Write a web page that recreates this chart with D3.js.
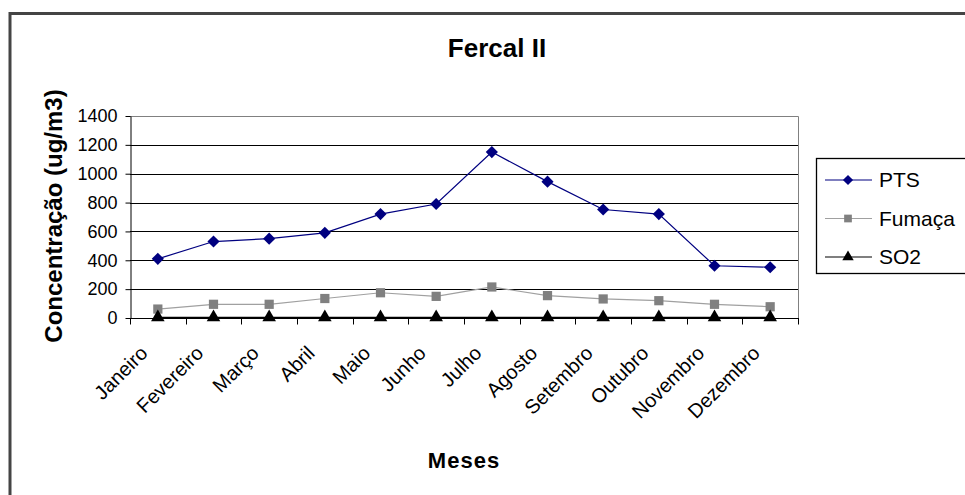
<!doctype html>
<html>
<head>
    <meta charset="UTF-8">
    <title>Fercal II</title>
    <style>
        body { margin: 0; background: #fff; }
        text { font-family: "Liberation Sans", Arial, sans-serif; fill: #000; }
        .grid line { stroke: #000; stroke-width: 1; }
    </style>
    <script src="https://d3js.org/d3.v7.min.js"></script>
</head>
<body>
<svg id="chart" width="965" height="495"></svg>
<script>
    // data
    var meses = ["Janeiro", "Fevereiro", "Março", "Abril", "Maio", "Junho",
                 "Julho", "Agosto", "Setembro", "Outubro", "Novembro", "Dezembro"];
    var pts     = [410, 530, 550, 590, 720, 790, 1150, 945, 752, 720, 362, 352];
    var fumaca  = [62, 95, 95, 135, 175, 150, 215, 155, 132, 120, 95, 78];
    var so2     = [5, 5, 5, 5, 5, 5, 5, 5, 5, 5, 5, 5];
    var yTicks  = [0, 200, 400, 600, 800, 1000, 1200, 1400];

    // diamond = square turned 45 degrees
    var series = [
        {name: "PTS",    values: pts,    line: "#000080", fill: "#000080", shape: d3.symbolSquare,   size: 74, rot: 45},
        {name: "Fumaça", values: fumaca, line: "#a0a0a0", fill: "#808080", shape: d3.symbolSquare,   size: 85, rot: 0},
        {name: "SO2",    values: so2,    line: "#000000", fill: "#000000", shape: d3.symbolTriangle, size: 80, rot: 0}
    ];

    function draw() {
        var svg = d3.select("#chart");

        // outer frame
        svg.append("rect")
            .attr("x", 10).attr("y", 13.5)
            .attr("width", 1000).attr("height", 600)
            .attr("fill", "none").attr("stroke", "#444").attr("stroke-width", 3);

        var pLeft = 130, pRight = 798, pTop = 116, pBottom = 318;

        var x = d3.scaleBand().domain(meses).range([pLeft, pRight]);
        var y = d3.scaleLinear().domain([0, 1400]).range([pBottom, pTop]);

        // gridlines
        svg.append("g").attr("class", "grid")
            .selectAll("line")
            .data(yTicks.slice(1, -1))
            .enter().append("line")
                .attr("x1", pLeft).attr("x2", pRight)
                .attr("y1", function(d) { return Math.round(y(d)) + 0.5; })
                .attr("y2", function(d) { return Math.round(y(d)) + 0.5; });

        // plot border (top & right gray)
        svg.append("path")
            .attr("d", "M" + pLeft + "," + (pTop + 0.5) + "H" + (pRight + 0.5) + "V" + pBottom)
            .attr("fill", "none").attr("stroke", "#808080");

        // y axis
        var yAxis = svg.append("g")
            .attr("transform", "translate(" + (pLeft + 0.5) + ",0)")
            .call(d3.axisLeft(y).tickValues(yTicks).tickFormat(d3.format("d"))
                .tickSize(5).tickPadding(8).tickSizeOuter(0));
        yAxis.select(".domain").attr("stroke", "#000");
        yAxis.selectAll(".tick line").attr("stroke", "#000");
        yAxis.selectAll("text")
            .attr("font-size", "18px")
            .attr("font-family", "Liberation Sans, Arial, sans-serif")
            .attr("fill", "#000");

        // x axis with ticks at category boundaries
        var xAxis = svg.append("g")
            .attr("transform", "translate(0," + (pBottom + 0.5) + ")");
        xAxis.append("line")
            .attr("x1", pLeft).attr("x2", pRight + 1)
            .attr("stroke", "#000");
        xAxis.selectAll("line.tk")
            .data(d3.range(meses.length + 1))
            .enter().append("line")
                .attr("class", "tk")
                .attr("x1", function(i) { return Math.round(pLeft + i * x.bandwidth()) + 0.5; })
                .attr("x2", function(i) { return Math.round(pLeft + i * x.bandwidth()) + 0.5; })
                .attr("y1", 0).attr("y2", 6)
                .attr("stroke", "#000");
        xAxis.selectAll("text")
            .data(meses)
            .enter().append("text")
                .attr("text-anchor", "end")
                .attr("font-size", "20px")
                .attr("transform", function(d) {
                    var cx = x(d) + x.bandwidth() / 2 - 9;
                    return "translate(" + cx + ",36) rotate(-45)";
                })
                .text(function(d) { return d; });

        // lines and markers
        var line = d3.line()
            .x(function(d, i) { return x(meses[i]) + x.bandwidth() / 2; })
            .y(function(d) { return y(d); });

        series.forEach(function(s) {
            svg.append("path")
                .datum(s.values)
                .attr("d", line)
                .attr("fill", "none")
                .attr("stroke", s.line)
                .attr("stroke-width", 1.2);
        });
        series.forEach(function(s) {
            svg.append("g").selectAll("path")
                .data(s.values)
                .enter().append("path")
                    .attr("d", d3.symbol().type(s.shape).size(s.size))
                    .attr("transform", function(d, i) {
                        return "translate(" + (x(meses[i]) + x.bandwidth() / 2) + "," + y(d) + ") rotate(" + s.rot + ")";
                    })
                    .attr("fill", s.fill);
        });

        // titles
        svg.append("text")
            .attr("x", 497).attr("y", 57)
            .attr("text-anchor", "middle")
            .attr("font-size", "26px").attr("font-weight", "bold")
            .text("Fercal II");

        svg.append("text")
            .attr("transform", "translate(62,216) rotate(-90)")
            .attr("text-anchor", "middle")
            .attr("font-size", "24px").attr("font-weight", "bold")
            .text("Concentração (ug/m3)");

        svg.append("text")
            .attr("x", 464).attr("y", 468)
            .attr("text-anchor", "middle")
            .attr("font-size", "22px").attr("font-weight", "bold")
            .attr("letter-spacing", "1px")
            .text("Meses");

        // legend
        var legend = svg.append("g");
        legend.append("rect")
            .attr("x", 816.5).attr("y", 158.5)
            .attr("width", 200).attr("height", 115)
            .attr("fill", "#fff").attr("stroke", "#000").attr("stroke-width", 1.3);
        var items = legend.selectAll("g.item")
            .data(series)
            .enter().append("g")
                .attr("class", "item")
                .attr("transform", function(d, i) { return "translate(0," + (180 + i * 38.5) + ")"; });
        items.append("line")
            .attr("x1", 825).attr("x2", 872)
            .attr("stroke", function(d) { return d.line; })
            .attr("stroke-width", 1.2);
        items.append("path")
            .attr("d", function(d) { return d3.symbol().type(d.shape).size(d.size * 0.7)(); })
            .attr("transform", function(d) { return "translate(848,0) rotate(" + d.rot + ")"; })
            .attr("fill", function(d) { return d.fill; });
        items.append("text")
            .attr("x", 879).attr("y", 0)
            .attr("dy", "0.35em")
            .attr("font-size", "21px")
            .text(function(d) { return d.name; });
    }

    draw();
</script>
</body>
</html>
